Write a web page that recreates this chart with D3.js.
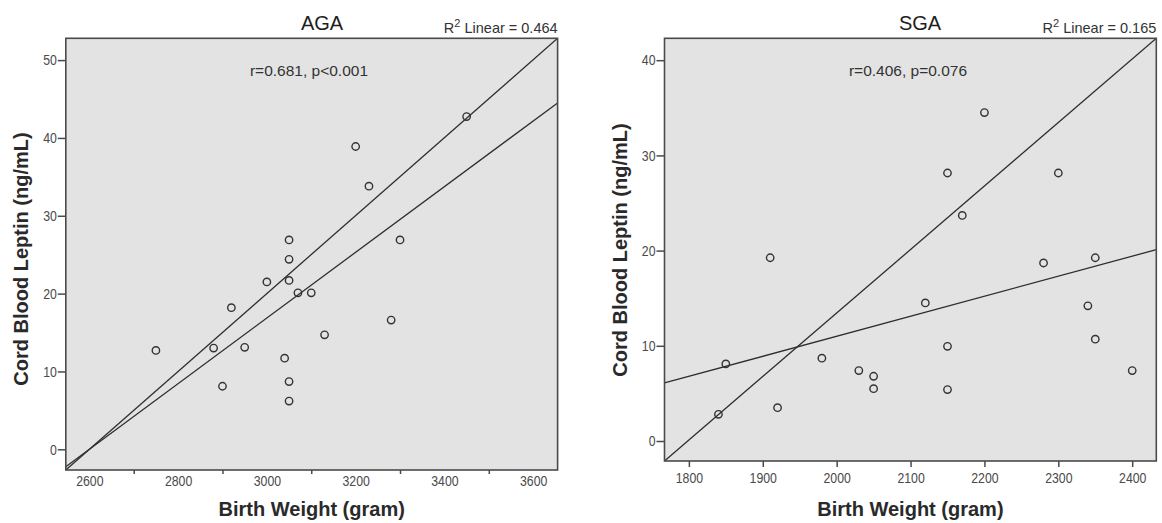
<!DOCTYPE html>
<html>
<head>
<meta charset="utf-8"/>
<script src="https://d3js.org/d3.v7.min.js"></script>
<style>
  body { margin:0; background:#fff; }
  svg text { font-family: "Liberation Sans", Arial, sans-serif; }
  .tickLab text { font-size:15px; fill:#4a4a4a; }
</style>
</head>
<body>
<div id="chart"></div>
<script>
// AGA panel
var agaWeight = [3450,3200,3230,3300,3050,3050,3000,3050,3070,3100,2920,3280,3130,2750,2880,2950,3040,2900,3050,3050];
var agaLeptin = [42.75,38.9,33.8,26.9,26.9,24.4,21.5,21.7,20.1,20.1,18.2,16.6,14.7,12.7,13.0,13.1,11.7,8.1,8.7,6.2];
var agaLineA = [[2547,-2.66],[3655,52.8]];
var agaLineB = [[2547,-2.23],[3655,44.5]];
var agaXLabels = [2600,2800,3000,3200,3400,3600];
var agaXTicks = [2700,2900,3100,3300,3500];
var agaYTicks = [0,10,20,30,40,50];

// SGA panel
var sgaWeight = [2200,2150,2300,2170,1910,2350,2280,2120,2340,2350,2150,1850,1980,2030,2050,2050,2150,2400,1840,1920];
var sgaLeptin = [34.5,28.15,28.15,23.7,19.25,19.25,18.7,14.5,14.2,10.7,9.95,8.1,8.7,7.4,6.8,5.5,5.4,7.4,2.8,3.5];
var sgaLineA = [[1767,-2.1],[2432.6,42.3]];
var sgaLineB = [[1767,6.1],[2432.6,20.1]];
var sgaXLabels = [1800,1900,2000,2100,2200,2300,2400];
var sgaYTicks = [0,10,20,30,40];

var W = 1162, H = 523;
var narrow = 0.82; // tick labels are set in a narrow face
var svg = d3.select("#chart").append("svg").attr("width", W).attr("height", H);

function squeeze(sel) {
  sel.selectAll("text").each(function() {
    var t = d3.select(this);
    var x0 = +t.attr("x") || 0;
    t.attr("x", x0 / narrow).attr("transform", "scale(" + narrow + ",1)");
  });
}

function drawPanel(p) {
  var x = d3.scaleLinear().domain(p.xDomain).range([p.x0, p.x1]);
  var y = d3.scaleLinear().domain(p.yDomain).range([p.y1, p.y0]);
  var g = svg.append("g");

  g.append("rect").attr("x", p.x0).attr("y", p.y0)
    .attr("width", p.x1 - p.x0).attr("height", p.y1 - p.y0)
    .style("fill", "#e3e3e3");

  var clip = "clip" + p.name;
  g.append("clipPath").attr("id", clip).append("rect")
    .attr("x", p.x0).attr("y", p.y0).attr("width", p.x1 - p.x0).attr("height", p.y1 - p.y0);

  var lineGen = d3.line().x(function(d){ return x(d[0]); }).y(function(d){ return y(d[1]); });
  [p.lineA, p.lineB].forEach(function(l){
    g.append("path").attr("d", lineGen(l)).attr("clip-path", "url(#" + clip + ")")
      .style("fill","none").style("stroke","#2e2e2e").style("stroke-width",1.3);
  });

  g.selectAll("circle.pt").data(d3.range(p.xs.length)).enter().append("circle")
    .attr("class","pt")
    .attr("cx", function(i){ return x(p.xs[i]); })
    .attr("cy", function(i){ return y(p.ys[i]); })
    .attr("r", 3.7)
    .style("fill","none").style("stroke","#333").style("stroke-width",1.4);

  g.append("rect").attr("x", p.x0).attr("y", p.y0)
    .attr("width", p.x1 - p.x0).attr("height", p.y1 - p.y0)
    .style("fill", "none").style("stroke","#4a4a4a").style("stroke-width",1.6);

  // y axis
  var ya = g.append("g").attr("class","tickLab").attr("transform","translate(" + p.x0 + ",0)")
    .call(d3.axisLeft(y).tickValues(p.yTicks).tickSize(8).tickPadding(1).tickFormat(d3.format("d")));
  ya.select(".domain").remove();
  ya.selectAll("line").style("stroke","#4a4a4a").style("stroke-width",1.5);
  squeeze(ya);

  // x labels
  var xa = g.append("g").attr("class","tickLab").attr("transform","translate(0," + p.y1 + ")")
    .call(d3.axisBottom(x).tickValues(p.xLabels).tickSize(p.labTick).tickPadding(p.labPad).tickFormat(d3.format("d")));
  xa.select(".domain").remove();
  xa.selectAll("line").style("stroke","#4a4a4a").style("stroke-width",1.5);
  squeeze(xa);

  if (p.xTicks) {
    var xt = g.append("g").attr("transform","translate(0," + p.y1 + ")")
      .call(d3.axisBottom(x).tickValues(p.xTicks).tickSize(4).tickFormat(""));
    xt.select(".domain").remove();
    xt.selectAll("line").style("stroke","#4a4a4a").style("stroke-width",1.5);
  }

  g.append("text").attr("x", p.titleX).attr("y", 30).attr("text-anchor","middle")
    .style("font-size","20px").style("fill","#1e1e1e").text(p.title);

  var r2 = g.append("text").attr("x", p.x1).attr("y", 33).attr("text-anchor","end")
    .style("font-size","14.5px").style("fill","#333");
  r2.append("tspan").text("R");
  r2.append("tspan").attr("dy", -6).style("font-size","11px").text("2");
  r2.append("tspan").attr("dy", 6).text(" Linear = " + p.r2);

  g.append("text").attr("x", p.statX).attr("y", 76).attr("text-anchor","middle")
    .style("font-size","15.5px").style("fill","#333").text(p.stat);

  g.append("text").attr("x", (p.x0 + p.x1) / 2).attr("y", 516).attr("text-anchor","middle")
    .style("font-size","20px").style("font-weight","bold").style("fill","#2a2a2a")
    .text("Birth Weight (gram)");

  g.append("text").attr("transform","translate(" + p.yLabX + "," + p.yLabY + ") rotate(-90)")
    .attr("text-anchor","middle")
    .style("font-size","20px").style("font-weight","bold").style("fill","#2a2a2a")
    .text("Cord Blood Leptin (ng/mL)");
}

drawPanel({
  name:"aga", title:"AGA", titleX:322, r2:"0.464", stat:"r=0.681, p<0.001", statX:309,
  x0:65.8, x1:557.6, y0:38.3, y1:470,
  xDomain:[2547,3655], yDomain:[-2.66,52.8],
  xs:agaWeight, ys:agaLeptin, lineA:agaLineA, lineB:agaLineB,
  xLabels:agaXLabels, xTicks:agaXTicks, yTicks:agaYTicks, labTick:0, labPad:5,
  yLabX:28, yLabY:259
});

drawPanel({
  name:"sga", title:"SGA", titleX:920, r2:"0.165", stat:"r=0.406, p=0.076", statX:908,
  x0:664.5, x1:1156.3, y0:38.3, y1:461,
  xDomain:[1767,2432.6], yDomain:[-2.1,42.3],
  xs:sgaWeight, ys:sgaLeptin, lineA:sgaLineA, lineB:sgaLineB,
  xLabels:sgaXLabels, xTicks:null, yTicks:sgaYTicks, labTick:6, labPad:5,
  yLabX:627, yLabY:250
});
</script>
</body>
</html>
